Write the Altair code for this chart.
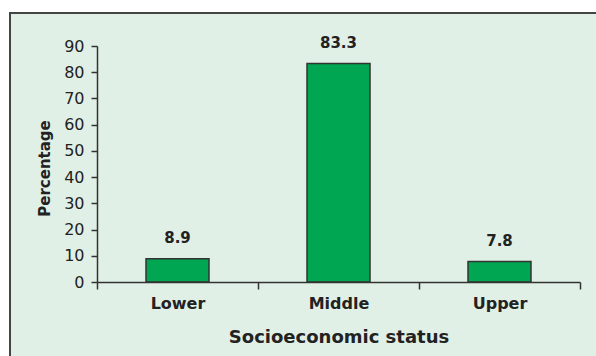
import altair as alt
import pandas as pd

categories = ["Lower", "Middle", "Upper"]
values = [8.9, 83.3, 7.8]
labels = ["8.9", "83.3", "7.8"]
y_ticks = [0, 10, 20, 30, 40, 50, 60, 70, 80, 90]

df = pd.DataFrame({"status": categories, "pct": values, "label": labels})

FONT = "DejaVu Sans"
BG = "#e1f0e6"

frame = alt.Chart(pd.DataFrame({"a": [0]})).mark_rect(
    fill=BG, stroke="#444444", strokeWidth=2
).encode(
    x=alt.value(-87), x2=alt.value(560), y=alt.value(-33), y2=alt.value(400)
)

base = alt.Chart(df).encode(
    x=alt.X("status:N", sort=categories,
            scale=alt.Scale(paddingInner=0, paddingOuter=0),
            axis=alt.Axis(title="Socioeconomic status", labelAngle=0,
                          tickBand="extent", tickSize=7, labelPadding=6,
                          titlePadding=17, zindex=1)),
    y=alt.Y("pct:Q", scale=alt.Scale(domain=[0, 90], nice=False),
            axis=alt.Axis(title="Percentage", values=y_ticks,
                          tickSize=6, labelPadding=7, titlePadding=11,
                          labelOverlap=False, titleY=122,
                          grid=False, zindex=1)),
)

bars = base.mark_bar(color="#00a651", stroke="#333333", strokeWidth=1.5, size=63)

text = base.mark_text(font=FONT, fontSize=15, fontWeight="bold", color="#222222",
                      dy=-21, baseline="middle").encode(text="label:N")

chart = alt.layer(frame, bars, text).properties(
    width=483, height=236,
    autosize=alt.AutoSizeParams(type="none"),
    padding={"left": 97, "top": 46, "right": 16, "bottom": 74},
    background="white",
).configure_view(stroke=None, fill=None).configure_axis(
    domainColor="#333333", tickColor="#333333", domainWidth=1.5, tickWidth=1.5,
    labelFont=FONT, titleFont=FONT, labelColor="#222222", titleColor="#222222",
).configure_axisX(
    labelFontSize=16, labelFontWeight="bold", titleFontSize=18, titleFontWeight="bold"
).configure_axisY(
    labelFontSize=16, labelFontWeight="normal", titleFontSize=15, titleFontWeight="bold"
)

chart.save("out.html", embed_options={"renderer": "svg", "actions": False})
